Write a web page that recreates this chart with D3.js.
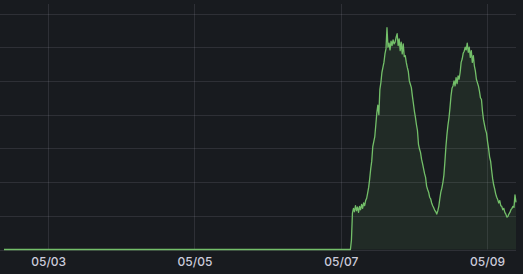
<!DOCTYPE html>
<html><head><meta charset="utf-8">
<script src="https://cdn.jsdelivr.net/npm/d3@7"></script>
<style>html,body{margin:0;padding:0;background:#181b1f;} svg{display:block}</style>
</head><body><svg id="chart" width="523" height="274"></svg>
<script>
// ---- data ----
const rangeStart = "2024-05-02T09:30:00Z";
const rangeEnd = "2024-05-09T09:30:00Z";
const idleUntil = "2024-05-07T03:10:00Z";
const activeStart = "2024-05-07T03:30:00Z";
const stepMinutes = 20;
const values = [
 0.28, 1.08, 1.22, 1.12, 1.30, 1.15, 1.26, 1.10, 1.28, 1.18, 1.34,
 1.22, 1.38, 1.30, 1.45, 1.52, 1.68, 1.85, 2.10, 2.40, 2.62,
 3.05, 3.20, 3.35, 3.70, 4.05, 4.28, 4.00, 4.75, 4.95, 5.25,
 5.40, 5.55, 5.80, 5.95, 6.58, 6.00, 6.12, 5.92, 6.18, 6.05,
 6.22, 6.10, 6.15, 6.30, 6.40, 6.05, 6.25, 5.90, 6.15, 5.80,
 6.10, 5.72, 5.75, 5.55, 5.40, 5.28, 5.00, 4.90, 4.80, 4.55,
 4.33, 4.10, 3.92, 3.70, 3.53, 3.12, 2.98, 2.88, 2.68, 2.55,
 2.40, 2.25, 2.14, 1.88, 1.78, 1.70, 1.55, 1.50, 1.38, 1.30,
 1.24, 1.16, 1.12, 1.05, 1.15, 1.28, 1.50, 1.70, 1.82, 1.98,
 2.20, 2.60, 3.05, 3.40, 3.68, 3.90, 4.20, 4.55, 4.78, 4.85,
 5.00, 4.85, 5.10, 4.92, 5.15, 5.05, 5.25, 5.55, 5.65, 5.82,
 5.88, 6.00, 5.92, 6.12, 5.85, 6.00, 5.70, 5.90, 5.55, 5.75,
 5.45, 5.30, 5.05, 4.95, 4.85, 4.70, 4.50, 4.45, 4.10, 3.85,
 3.70, 3.55, 3.45, 3.20, 3.00, 2.75, 2.62, 2.35, 2.10, 1.92,
 1.80, 1.65, 1.55, 1.48, 1.38, 1.45, 1.30, 1.28, 1.18, 1.22,
 1.10, 1.05, 0.96, 0.98, 1.05, 1.10, 1.18, 1.22, 1.28, 1.25,
 1.62, 1.40
];
const yTicks = [0, 1, 2, 3, 4, 5, 6, 7];
const xTickDates = ["2024-05-03T00:00:00Z", "2024-05-05T00:00:00Z", "2024-05-07T00:00:00Z", "2024-05-09T00:00:00Z"];
const xTickLabels = ["05/03", "05/05", "05/07", "05/09"];

// ---- build series ----
const t0 = new Date(activeStart).getTime();
const series = [
  {t: new Date(rangeStart), v: 0},
  {t: new Date(idleUntil), v: 0},
  ...values.map((v, i) => ({t: new Date(t0 + i * stepMinutes * 60000), v}))
];

const svg = d3.select("#chart");
const W = 523, H = 274;
svg.append("rect").attr("width", W).attr("height", H).attr("fill", "#181b1f");

const x = d3.scaleUtc().domain([new Date(rangeStart), new Date(rangeEnd)]).range([4, 516]);
const y = d3.scaleLinear().domain([0, 7]).range([249.5, 13.5]);

const gridColor = "rgba(204,204,220,0.12)";
// horizontal grid
svg.append("g").selectAll("line").data(yTicks).join("line")
  .attr("x1", 0).attr("x2", 516)
  .attr("y1", d => Math.round(y(d)) + 0.5).attr("y2", d => Math.round(y(d)) + 0.5)
  .attr("stroke", gridColor).attr("stroke-width", 1);
// vertical grid
const xt = xTickDates.map(d => new Date(d));
svg.append("g").selectAll("line").data(xt).join("line")
  .attr("x1", d => Math.round(x(d)) + 0.5).attr("x2", d => Math.round(x(d)) + 0.5)
  .attr("y1", 4).attr("y2", y(0))
  .attr("stroke", gridColor).attr("stroke-width", 1);

// area + line
const area = d3.area().x(d => x(d.t)).y0(y(0)).y1(d => y(d.v));
const line = d3.line().x(d => x(d.t)).y(d => y(d.v));
svg.append("path").datum(series).attr("d", area).attr("fill", "rgba(115,191,105,0.1)");
svg.append("path").datum(series).attr("d", line).attr("fill", "none")
  .attr("stroke", "#73bf69").attr("stroke-width", 1.3).attr("stroke-linejoin", "round");

// x axis labels
const xAxis = d3.axisBottom(x).tickValues(xt).tickSize(0)
  .tickFormat((d, i) => xTickLabels[i]);
const gx = svg.append("g").attr("transform", "translate(0,254)").call(xAxis);
gx.select(".domain").remove();
gx.selectAll("text")
  .attr("fill", "#ccccdc")
  .attr("font-family", "Inter, 'Noto Sans', sans-serif")
  .attr("font-size", 12)
  .attr("font-weight", 500);
</script>
</body></html>
